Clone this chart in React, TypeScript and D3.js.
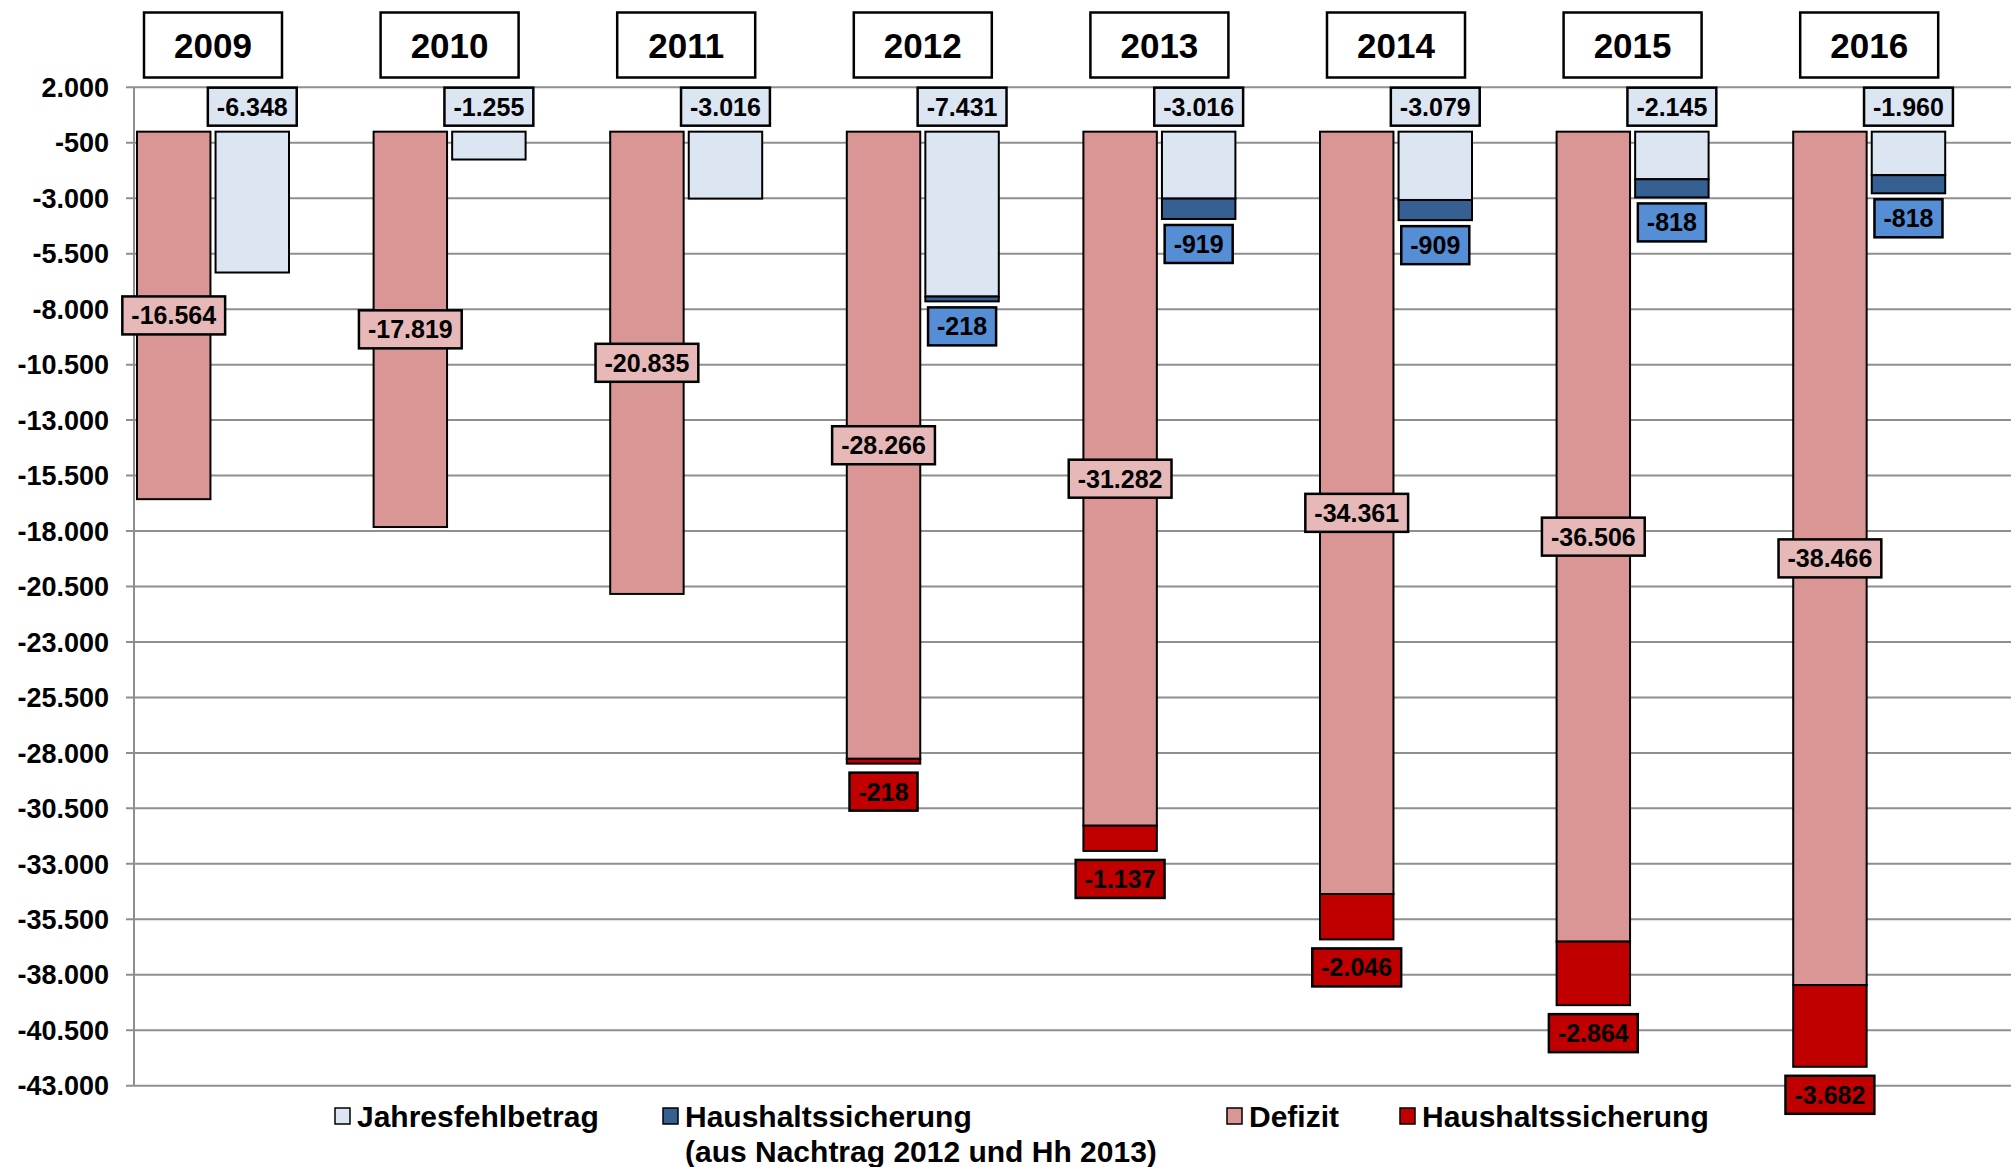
import React, { useEffect, useRef } from "react";
import * as d3 from "d3";

// chart values (in TEUR)
const years = ["2009", "2010", "2011", "2012", "2013", "2014", "2015", "2016"];
const jahresfehlbetrag = [-6348, -1255, -3016, -7431, -3016, -3079, -2145, -1960];
const hhsBlue = [0, 0, 0, -218, -919, -909, -818, -818];
const defizit = [-16564, -17819, -20835, -28266, -31282, -34361, -36506, -38466];
const hhsRed = [0, 0, 0, -218, -1137, -2046, -2864, -3682];
const yTicks = d3.range(2000, -43001, -2500);

const legendItems = [
  { label: ["Jahresfehlbetrag"], color: "#dce6f2", x: 335 },
  { label: ["Haushaltssicherung", "(aus Nachtrag 2012 und Hh 2013)"], color: "#376092", x: 663 },
  { label: ["Defizit"], color: "#d99694", x: 1227 },
  { label: ["Haushaltssicherung"], color: "#c00000", x: 1400 },
];

const W = 2011;
const H = 1167;
const FONT = "'Liberation Sans', Arial, Helvetica, sans-serif";

const de = d3.formatLocale({
  decimal: ",",
  thousands: ".",
  grouping: [3],
  currency: ["", " €"],
  minus: "-",
});
const fmt = de.format(",d");

const App: React.FC = () => {
  const svgRef = useRef<SVGSVGElement | null>(null);

  useEffect(() => {
    if (!svgRef.current) return;
    const svg = d3.select(svgRef.current);
    svg.selectAll("*").remove();

    const ctx = document.createElement("canvas").getContext("2d")!;
    const measure = (t: string, size: number) => {
      ctx.font = `bold ${size}px ${FONT}`;
      return ctx.measureText(t).width;
    };

    const y = d3.scaleLinear().domain([2000, -43000]).range([87.3, 1085.7]);
    const x = d3.scaleBand<string>().domain(years).range([134, 134 + 8 * 236.6]);
    const inner = d3.scaleBand<string>().domain(["def", "jahr"]).range([3, 155]).paddingInner(0.065);
    const bw = inner.bandwidth();

    // gridlines + y axis
    const grid = svg.append("g");
    grid
      .selectAll("line")
      .data(yTicks)
      .enter()
      .append("line")
      .attr("x1", 126)
      .attr("x2", W)
      .attr("y1", (d) => y(d))
      .attr("y2", (d) => y(d))
      .attr("stroke", "#8f8f8f")
      .attr("stroke-width", 2);

    grid
      .append("line")
      .attr("x1", 134)
      .attr("x2", 134)
      .attr("y1", y(2000))
      .attr("y2", y(-43000))
      .attr("stroke", "#8f8f8f")
      .attr("stroke-width", 2);

    grid
      .selectAll("text")
      .data(yTicks)
      .enter()
      .append("text")
      .attr("x", 109)
      .attr("y", (d) => y(d))
      .attr("dy", "0.36em")
      .attr("text-anchor", "end")
      .style("font", `bold 27px ${FONT}`)
      .text((d) => fmt(d));

    const y0 = y(0);

    // bars
    const bars = svg.append("g").attr("stroke", "#000").attr("stroke-width", 2);
    years.forEach((yr, i) => {
      const xd = x(yr)! + inner("def")!;
      const xj = x(yr)! + inner("jahr")!;
      const defEnd = y(defizit[i]);
      const redEnd = y(defizit[i] + hhsRed[i]);
      const jEnd = y(jahresfehlbetrag[i]);
      const bEnd = y(jahresfehlbetrag[i] + hhsBlue[i]);

      bars.append("rect").attr("x", xd).attr("y", y0).attr("width", bw).attr("height", defEnd - y0).attr("fill", "#d99694");
      if (hhsRed[i] !== 0)
        bars.append("rect").attr("x", xd).attr("y", defEnd).attr("width", bw).attr("height", redEnd - defEnd).attr("fill", "#c00000");
      bars.append("rect").attr("x", xj).attr("y", y0).attr("width", bw).attr("height", jEnd - y0).attr("fill", "#dce6f2");
      if (hhsBlue[i] !== 0)
        bars.append("rect").attr("x", xj).attr("y", jEnd).attr("width", bw).attr("height", bEnd - jEnd).attr("fill", "#376092");
    });

    // boxed labels
    const labels = svg.append("g");
    const boxLabel = (cx: number, cy: number, text: string, fill: string, size = 25, padX = 9, h = 38, minW = 0) => {
      const w = Math.max(measure(text, size) + padX * 2, minW);
      labels
        .append("rect")
        .attr("x", cx - w / 2)
        .attr("y", cy - h / 2)
        .attr("width", w)
        .attr("height", h)
        .attr("fill", fill)
        .attr("stroke", "#000")
        .attr("stroke-width", 2.5);
      labels
        .append("text")
        .attr("x", cx)
        .attr("y", cy)
        .attr("dy", "0.36em")
        .attr("text-anchor", "middle")
        .style("font", `bold ${size}px ${FONT}`)
        .text(text);
    };

    years.forEach((yr, i) => {
      const cd = x(yr)! + inner("def")! + bw / 2;
      const cj = x(yr)! + inner("jahr")! + bw / 2;
      // year header
      boxLabel((cd + cj) / 2, 45, yr, "#fff", 35, 0, 65, 138);
      // Jahresfehlbetrag above the bar
      boxLabel(cj, y0 - 25, fmt(jahresfehlbetrag[i]), "#dce6f2");
      // Defizit in the middle of the bar
      boxLabel(cd, (y0 + y(defizit[i])) / 2, fmt(defizit[i]), "#e6b9b8");
      if (hhsBlue[i] !== 0)
        boxLabel(cj, y(jahresfehlbetrag[i] + hhsBlue[i]) + 6 + 19, fmt(hhsBlue[i]), "#558ed5");
      if (hhsRed[i] !== 0)
        boxLabel(cd, y(defizit[i] + hhsRed[i]) + 9 + 19, fmt(hhsRed[i]), "#c00000");
    });

    // legend
    const legend = svg.append("g");
    legendItems.forEach((item) => {
      legend
        .append("rect")
        .attr("x", item.x)
        .attr("y", 1108)
        .attr("width", 15)
        .attr("height", 16)
        .attr("fill", item.color)
        .attr("stroke", "#000")
        .attr("stroke-width", 1.5);
      item.label.forEach((line, li) => {
        legend
          .append("text")
          .attr("x", item.x + 22)
          .attr("y", 1126.5 + li * 35.5)
          .style("font", `bold 30px ${FONT}`)
          .text(line);
      });
    });
  }, []);

  return (
    <svg
      ref={svgRef}
      width={W}
      height={H}
      style={{ position: "absolute", left: 0, top: 0, background: "#fff" }}
    ></svg>
  );
};

export default App;
